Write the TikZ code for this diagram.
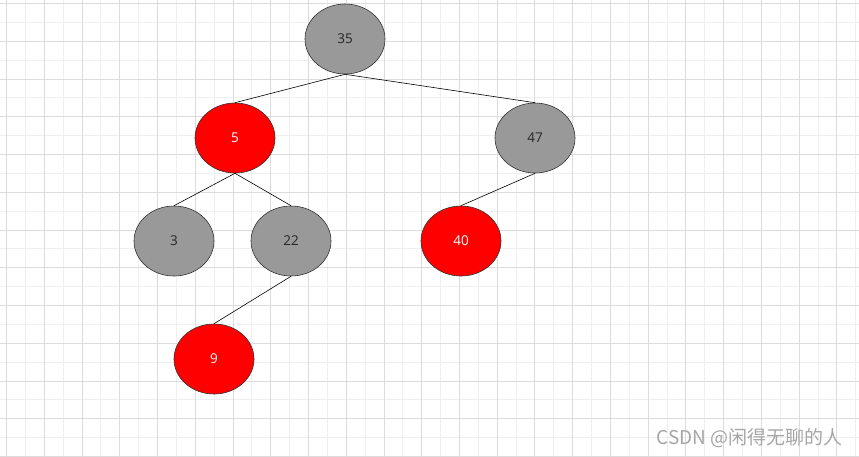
\documentclass[tikz,border=0pt]{standalone}
\usepackage{fontspec}
\setmainfont{Open Sans}
\newfontfamily\cjk{Noto Sans CJK SC}
\usetikzlibrary{shapes.geometric}

\definecolor{blackfill}{HTML}{999999}
\definecolor{redfill}{HTML}{FF0000}
\definecolor{gridmajor}{HTML}{DCDCDC}
\definecolor{gridminor}{HTML}{EFEFEF}
\definecolor{marktext}{HTML}{A6A6A6}

\begin{document}
\begin{tikzpicture}[x=1pt, y=-1pt,
		rbnode/.style={draw=black!80, line width=0.6pt, ellipse, minimum width=80pt, minimum height=70pt, inner sep=0pt, font=\fontsize{13.5}{15}\selectfont},
		blacknode/.style={rbnode, fill=blackfill, text=black!85},
		rednode/.style={rbnode, fill=redfill, text=white},
		treeedge/.style={draw=black, line width=0.6pt}]
		\useasboundingbox (0,0) rectangle (859,456);
		\fill[white] (0,0) rectangle (859,456);
		\foreach \i in {0,...,45}
			\draw[gridminor, line width=0.8pt] ({6.5+\i*18.87},0) -- ++(0,456);
		\foreach \j in {0,...,24}
			\draw[gridminor, line width=0.8pt] (0,{3.5+\j*18.87}) -- ++(859,0);
		\foreach \i in {0,...,22}
			\draw[gridmajor, line width=0.8pt] ({6.5+\i*37.74},0) -- ++(0,456);
		\foreach \j in {0,...,12}
			\draw[gridmajor, line width=0.8pt] (0,{3.5+\j*37.74}) -- ++(859,0);

		\node[blacknode] (n35) at (345, 39) {35};
		\node[rednode] (n5) at (235, 138) {5};
		\node[blacknode] (n47) at (535, 138) {47};
		\node[blacknode] (n3) at (174, 241) {3};
		\node[blacknode] (n22) at (291, 241) {22};
		\node[rednode] (n40) at (461, 241) {40};
		\node[rednode] (n9) at (214, 359) {9};

		\draw[treeedge] (n35.south) -- (n5.north);
		\draw[treeedge] (n35.south) -- (n47.north);
		\draw[treeedge] (n5.south) -- (n3.north);
		\draw[treeedge] (n5.south) -- (n22.north);
		\draw[treeedge] (n47.south) -- (n40.north);
		\draw[treeedge] (n22.south) -- (n9.north);

		\node[anchor=east, inner sep=0pt, text=marktext, font=\cjk\fontsize{19}{22}\selectfont] (mark) at (843, 438) {CSDN @闲得无聊的人};
	\end{tikzpicture}
\end{document}
